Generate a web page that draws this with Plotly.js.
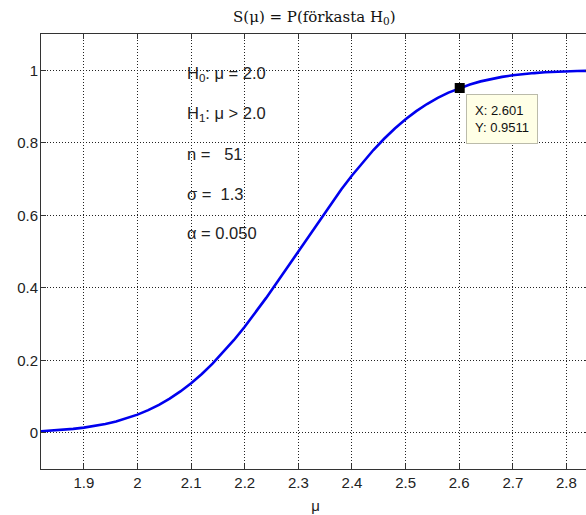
<!DOCTYPE html>
<html>
<head>
<meta charset="utf-8">
<script src="https://cdn.plot.ly/plotly-3.0.1.min.js"></script>
<style>
html, body { margin: 0; padding: 0; overflow: hidden; background: #fff; }
#chart { width: 590px; height: 515px; }
</style>
</head>
<body>
<div id="chart"></div>
<script>
// Power function values
const mu = [1.82, 1.84, 1.86, 1.88, 1.90, 1.92, 1.94, 1.96, 1.98, 2.00,
            2.02, 2.04, 2.06, 2.08, 2.10, 2.12, 2.14, 2.16, 2.18, 2.20,
            2.22, 2.24, 2.26, 2.28, 2.30, 2.32, 2.34, 2.36, 2.38, 2.40,
            2.42, 2.44, 2.46, 2.48, 2.50, 2.52, 2.54, 2.56, 2.58, 2.60,
            2.62, 2.64, 2.66, 2.68, 2.70, 2.72, 2.74, 2.76, 2.78, 2.80,
            2.82, 2.84, 2.86];
const power = [0.0042, 0.0058, 0.0079, 0.0106, 0.0141, 0.0186, 0.0242, 0.0311, 0.0396, 0.0500,
               0.0624, 0.0771, 0.0942, 0.1140, 0.1366, 0.1621, 0.1906, 0.2218, 0.2559, 0.2925,
               0.3313, 0.3720, 0.4143, 0.4575, 0.5012, 0.5450, 0.5882, 0.6303, 0.6710, 0.7097,
               0.7461, 0.7800, 0.8111, 0.8394, 0.8647, 0.8872, 0.9068, 0.9238, 0.9384, 0.9506,
               0.9609, 0.9693, 0.9762, 0.9817, 0.9861, 0.9896, 0.9922, 0.9943, 0.9959, 0.9970,
               0.9979, 0.9985, 0.9990];
const tipX = [2.601];
const tipY = [0.9511];
const xTicks = [1.9, 2.0, 2.1, 2.2, 2.3, 2.4, 2.5, 2.6, 2.7, 2.8];
const xTickText = ['1.9', '2', '2.1', '2.2', '2.3', '2.4', '2.5', '2.6', '2.7', '2.8'];
const yTicks = [0, 0.2, 0.4, 0.6, 0.8, 1];
const yTickText = ['0', '0.2', '0.4', '0.6', '0.8', '1'];
const infoLines = ['H<sub>0</sub>: \u03bc = 2.0', 'H<sub>1</sub>: \u03bc > 2.0', 'n =\u00a0\u00a0\u00a051', '\u03c3 =\u00a0\u00a01.3', '\u03b1 = 0.050'];
const infoY = [0.99, 0.88, 0.77, 0.66, 0.55];

const sans = 'Liberation Sans, Arial, sans-serif';
const axisCommon = {
  showline: true, linecolor: '#333', linewidth: 1, mirror: 'ticks',
  ticks: 'inside', ticklen: 5, tickcolor: '#333', tickwidth: 1,
  showgrid: true, gridcolor: '#222', gridwidth: 1, griddash: '1px,2px',
  zeroline: false, tickfont: {family: sans, size: 15, color: '#222'},
  automargin: false
};

const traces = [
  {x: mu, y: power, type: 'scatter', mode: 'lines', line: {color: '#0000ee', width: 2.6}, hoverinfo: 'skip'},
  {x: tipX, y: tipY, type: 'scatter', mode: 'markers', marker: {color: '#000', symbol: 'square', size: 10}, hoverinfo: 'skip'}
];

const annotations = infoLines.map((t, i) => ({
  x: 2.088, y: infoY[i], xref: 'x', yref: 'y', text: t, showarrow: false,
  xanchor: 'left', yanchor: 'middle',
  font: {family: sans, size: 16.5, color: '#222'}
}));
annotations.push({
  x: tipX[0], y: tipY[0], xref: 'x', yref: 'y',
  text: 'X: ' + tipX[0].toFixed(3) + '<br>Y: ' + tipY[0].toFixed(4),
  showarrow: false, xanchor: 'left', yanchor: 'top', align: 'left',
  xshift: 6, yshift: -6,
  bgcolor: '#ffffe6', bordercolor: '#bbbbaa', borderwidth: 1, borderpad: 8,
  font: {family: sans, size: 13, color: '#111'}
});

const layout = {
  width: 590, height: 515,
  margin: {l: 41, r: 0, t: 34, b: 46},
  paper_bgcolor: '#fff', plot_bgcolor: '#fff',
  showlegend: false,
  title: {
    text: 'S(\u03bc) = P(förkasta H<sub>0</sub>)',
    x: (233 - 41) / 549, xref: 'paper', xanchor: 'left',
    y: 1 - 17 / 515, yref: 'container', yanchor: 'middle',
    font: {family: 'DejaVu Serif, Liberation Serif, serif', size: 15, color: '#111'}
  },
  xaxis: Object.assign({}, axisCommon, {
    range: [1.82, 2.844], tickvals: xTicks, ticktext: xTickText,
    title: {text: '\u03bc', standoff: 10, font: {family: sans, size: 15, color: '#222'}}
  }),
  yaxis: Object.assign({}, axisCommon, {
    range: [-0.1, 1.1], tickvals: yTicks, ticktext: yTickText,
    ticklabelstandoff: -1
  }),
  annotations: annotations
};

Plotly.newPlot('chart', traces, layout, {displayModeBar: false, staticPlot: true});
</script>
</body>
</html>
